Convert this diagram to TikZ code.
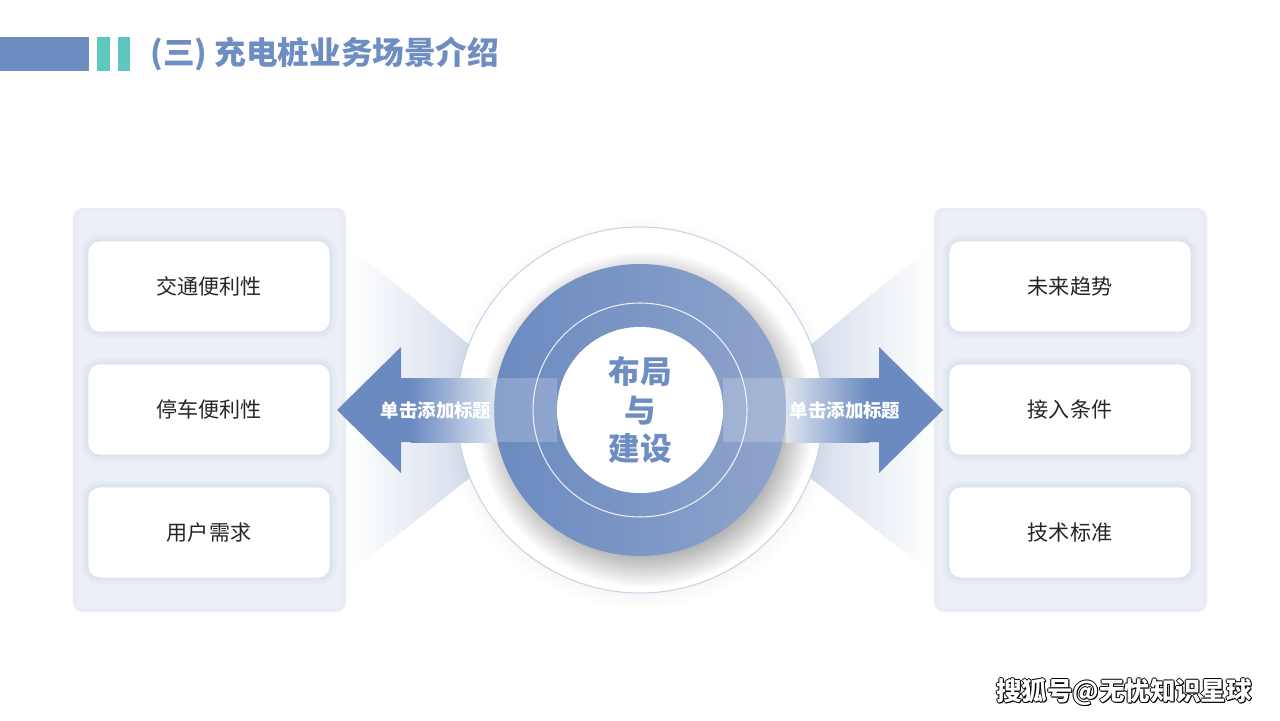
\documentclass[tikz,border=0pt]{standalone}
\usepackage{fontspec}
\setmainfont{Noto Sans CJK SC}
\usetikzlibrary{fadings}
\definecolor{barblue}{RGB}{108,140,192}
\definecolor{barteal}{RGB}{94,200,192}
\definecolor{titleblue}{RGB}{110,141,194}
\definecolor{ringblue}{RGB}{106,138,192}
\definecolor{ringlight}{RGB}{143,164,203}
\definecolor{panelgray}{RGB}{236,239,246}
\definecolor{cardline}{RGB}{216,222,238}
\definecolor{haze}{RGB}{213,221,236}
\definecolor{edgeblue}{RGB}{200,211,233}
\definecolor{textdark}{RGB}{38,38,38}

\tikzset{
  panel/.style={fill=panelgray, draw=panelgray!85!cardline, line width=2pt, rounded corners=5pt,
    minimum width=5.4cm, minimum height=8.02cm, inner sep=0pt},
  card/.style={draw=cardline, fill=white, rounded corners=6.5pt, minimum width=4.84cm, minimum height=1.82cm,
    font=\fontsize{12}{14}\selectfont, text=textdark,
    preaction={draw=cardline, line width=7pt, opacity=0.25},
    preaction={draw=cardline, line width=3.5pt, opacity=0.35}},
  arrowtext/.style={font=\bfseries\fontsize{10.5}{12}\selectfont, text=white},
}

\begin{document}
\begin{tikzpicture}[x=0.02cm, y=-0.02cm]
  \useasboundingbox (0,0) rectangle (1280,720);
  \fill[white] (0,0) rectangle (1280,720);

  % header
  \fill[barblue] (0,37) rectangle (89,71);
  \fill[barteal] (97,37) rectangle (110,71);
  \fill[barteal] (118,37) rectangle (130,71);
  \node[anchor=west, inner sep=0pt, text=titleblue, font=\bfseries\fontsize{18}{20}\selectfont] (title) at (150,54) {(三) 充电桩业务场景介绍};

  % side panels
  \node[panel] (lpanel) at (209.5,410) {};
  \node[panel] (rpanel) at (1070.5,410) {};

  % haze between panels and hub
  \shade[left color=white, right color=haze] (347,248) .. controls (395,280) and (440,322) .. (470,345)
    -- (470,478) .. controls (440,500) and (395,540) .. (347,572) -- cycle;
  \shade[left color=haze, right color=white] (933,248) .. controls (885,280) and (840,322) .. (810,345)
    -- (810,478) .. controls (840,500) and (885,540) .. (933,572) -- cycle;

  % hub
  \coordinate (C) at (640,410);
  \fill[black, opacity=0.07, path fading=circle with fuzzy edge 20 percent] ([shift={(0,4)}]C) circle (196);
  \fill[white, draw=edgeblue, line width=0.6pt] (C) circle (183);
  \fill[black, opacity=0.3, path fading=circle with fuzzy edge 20 percent] ([shift={(5,9)}]C) circle (168);
  \shade[even odd rule, left color=ringblue, right color=ringlight] (C) circle (146) (C) circle (83);
  \fill[white] (C) circle (83);
  \draw[white, line width=0.6pt, opacity=0.85] (C) circle (107);

  % left arrow
  \fill[ringblue] (337,410) -- (401,347) -- (401,378) -- (412,378) -- (412,442) -- (401,442) -- (401,473) -- cycle;
  \shade[left color=ringblue, right color=haze!80!white] (411,378) rectangle (494,442);
  \fill[white, opacity=0.2] (494,378) rectangle (557,442);
  \node[arrowtext] (ltag) at (436,410) {单击添加标题};

  % right arrow
  \fill[ringblue] (943,410) -- (879,347) -- (879,378) -- (868,378) -- (868,442) -- (879,442) -- (879,473) -- cycle;
  \shade[left color=haze!80!white, right color=ringblue] (786,378) rectangle (869,442);
  \fill[white, opacity=0.2] (723,378) rectangle (786,442);
  \node[arrowtext] (rtag) at (845,410) {单击添加标题};

  % hub text
  \node[align=center, text=titleblue, font=\bfseries\fontsize{18}{21.8}\selectfont] (hub) at (C) {布局\\与\\建设};

  % cards
  \node[card] (l1) at (209,286.5) {交通便利性};
  \node[card] (l2) at (209,409.5) {停车便利性};
  \node[card] (l3) at (209,532.5) {用户需求};
  \node[card] (r1) at (1070,286.5) {未来趋势};
  \node[card] (r2) at (1070,409.5) {接入条件};
  \node[card] (r3) at (1070,532.5) {技术标准};

  % watermark
  \foreach \dx/\dy in {-1/0,1/0,0/-1,0/1,1/1}
    \node[text=black, font=\bfseries\fontsize{14.5}{16}\selectfont] at (1124+\dx,692+\dy) {搜狐号@无忧知识星球};
  \node[text=white, font=\bfseries\fontsize{14.5}{16}\selectfont] (mark) at (1124,692) {搜狐号@无忧知识星球};
\end{tikzpicture}
\end{document}
